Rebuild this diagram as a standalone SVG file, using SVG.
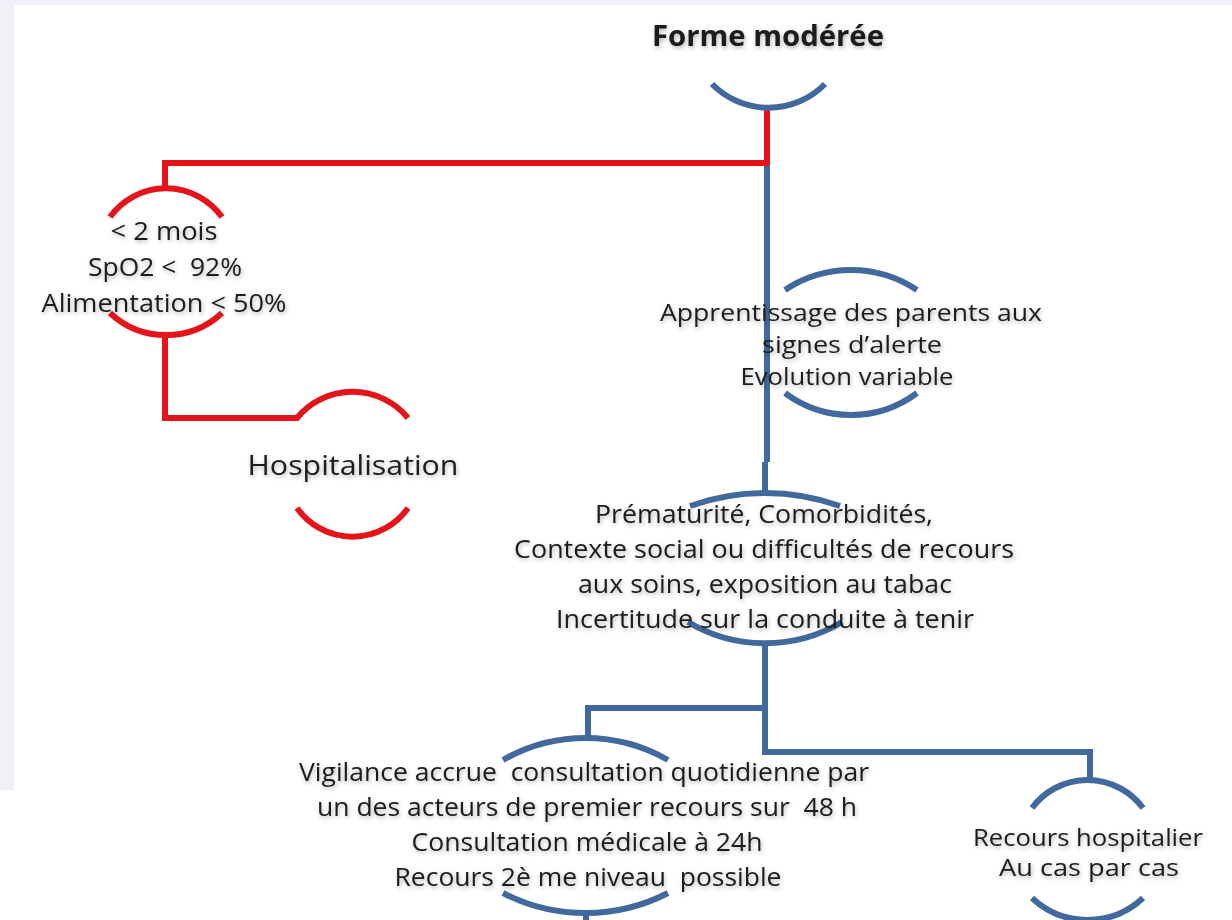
<svg xmlns="http://www.w3.org/2000/svg" width="1232" height="920" viewBox="0 0 1232 920">
<defs>
<filter id="sh" x="-10%" y="-30%" width="120%" height="160%">
<feDropShadow dx="1" dy="2" stdDeviation="2" flood-color="#000" flood-opacity="0.3"/>
</filter>
</defs>
<style>
text{font-family:"Open Sans","DejaVu Sans",sans-serif;fill:#1c1c1c;text-anchor:middle;filter:url(#sh);white-space:pre}
.t{font-size:28px;font-weight:bold}
.s{font-size:25px}
.m{font-size:24px}
.red{fill:none;stroke:#e5141b;stroke-width:6}
.blue{fill:none;stroke:#41699d;stroke-width:6}
</style>
<rect width="1232" height="920" fill="#ffffff"/>
<rect x="0" y="0" width="1232" height="5" fill="#f0f0f8"/>
<rect x="0" y="0" width="14" height="790" fill="#f0f0f8"/>

<g id="connectors">
<path class="red" d="M767,106 V163 H165 V190"/>
<path class="red" d="M165,334 V418 H299"/>
<path class="blue" d="M767,166 V462 M765,462 V492"/>
<path class="blue" d="M765,642 V752 H1090 V781"/>
<path class="blue" d="M765,708 H588 V739"/>
<path class="blue" d="M586,912 V920"/>
</g>

<g id="node-forme">
<text class="t" x="768" y="46" textLength="232" lengthAdjust="spacingAndGlyphs">Forme modérée</text>
<path class="blue" d="M712,84 A79,79 0 0 0 825,84"/>
</g>

<g id="node-criteres">
<path class="red" d="M110,217 A69,69 0 0 1 222,217"/>
<path class="red" d="M110,313 A82,82 0 0 0 222,313"/>
<text class="s" x="164" y="240" textLength="107" lengthAdjust="spacingAndGlyphs">&lt; 2 mois</text>
<text class="s" x="165" y="276" textLength="154" lengthAdjust="spacingAndGlyphs">SpO2 &lt;  92%</text>
<text class="s" x="164" y="312" textLength="245" lengthAdjust="spacingAndGlyphs">Alimentation &lt; 50%</text>
</g>

<g id="node-hospitalisation">
<path class="red" d="M297,418 A72,72 0 0 1 408,418"/>
<path class="red" d="M297,508 A68,68 0 0 0 408,508"/>
<text x="353" y="475" style="font-size:28px" textLength="211" lengthAdjust="spacingAndGlyphs">Hospitalisation</text>
</g>

<g id="node-apprentissage">
<path class="blue" d="M785,290 A119,119 0 0 1 917,290"/>
<path class="blue" d="M785,393 A110,110 0 0 0 917,393"/>
<text class="m" x="851" y="321" textLength="382" lengthAdjust="spacingAndGlyphs">Apprentissage des parents aux</text>
<text class="m" x="852" y="353" textLength="180" lengthAdjust="spacingAndGlyphs">signes d’alerte</text>
<text class="m" x="847" y="385" textLength="213" lengthAdjust="spacingAndGlyphs">Evolution variable</text>
</g>

<g id="node-facteurs">
<path class="blue" d="M690,506 A223,223 0 0 1 840,506"/>
<path class="blue" d="M688,622 A150,150 0 0 0 842,622"/>
<text class="s" x="764" y="523" textLength="338" lengthAdjust="spacingAndGlyphs">Prématurité, Comorbidités,</text>
<text class="s" x="764" y="558" textLength="500" lengthAdjust="spacingAndGlyphs">Contexte social ou difficultés de recours</text>
<text class="s" x="765" y="593" textLength="374" lengthAdjust="spacingAndGlyphs">aux soins, exposition au tabac</text>
<text class="s" x="765" y="628" textLength="418" lengthAdjust="spacingAndGlyphs">Incertitude sur la conduite à tenir</text>
</g>

<g id="node-vigilance">
<path class="blue" d="M503,760 A166,166 0 0 1 668,760"/>
<path class="blue" d="M503,893 A180,180 0 0 0 668,893"/>
<text class="s" x="584" y="781" textLength="570" lengthAdjust="spacingAndGlyphs">Vigilance accrue  consultation quotidienne par</text>
<text class="s" x="587" y="816" textLength="540" lengthAdjust="spacingAndGlyphs">un des acteurs de premier recours sur  48 h</text>
<text class="s" x="587" y="851" textLength="351" lengthAdjust="spacingAndGlyphs">Consultation médicale à 24h</text>
<text class="s" x="588" y="886" textLength="387" lengthAdjust="spacingAndGlyphs">Recours 2è me niveau  possible</text>
</g>

<g id="node-recours">
<path class="blue" d="M1032,808 A69,69 0 0 1 1143,808"/>
<path class="blue" d="M1032,898 A81,81 0 0 0 1143,898"/>
<text class="m" x="1088" y="846" textLength="230" lengthAdjust="spacingAndGlyphs">Recours hospitalier</text>
<text class="m" x="1089" y="876" textLength="180" lengthAdjust="spacingAndGlyphs">Au cas par cas</text>
</g>
</svg>
